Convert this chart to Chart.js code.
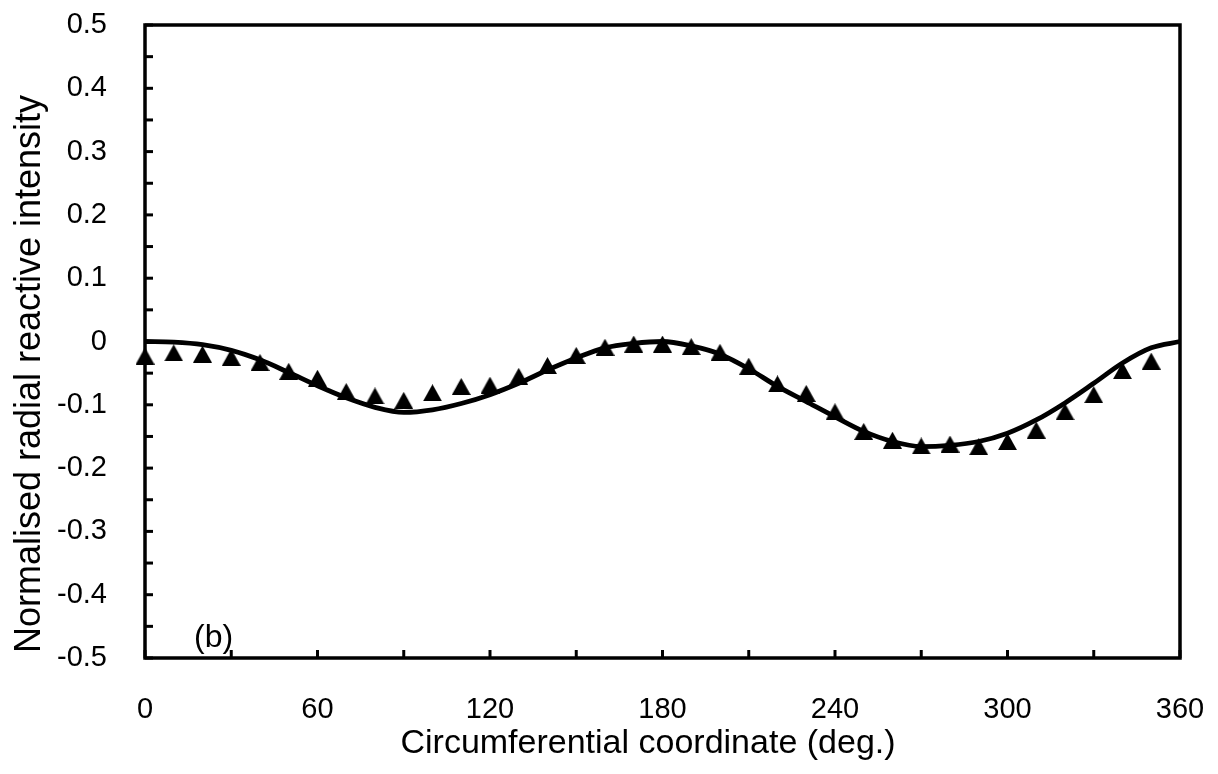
<!DOCTYPE html>
<html>
<head>
<meta charset="utf-8">
<script src="https://cdn.jsdelivr.net/npm/chart.js@4"></script>
<style>
  html, body { margin: 0; padding: 0; background: #fff; }
  #chart { display: block; }
</style>
</head>
<body>
<canvas id="chart" width="1218" height="774"></canvas>
<script>
// measured points (triangles)
let markerAngles = [0, 10, 20, 30, 40, 50, 60, 70, 80, 90, 100, 110, 120, 130, 140, 150, 160, 170,
  180, 190, 200, 210, 220, 230, 240, 250, 260, 270, 280, 290, 300, 310, 320, 330, 340, 350];
let markerValues = [-0.023, -0.018, -0.020, -0.025, -0.033, -0.047, -0.058, -0.079, -0.086, -0.093,
  -0.081, -0.071, -0.069, -0.055, -0.038, -0.022, -0.009, -0.004, -0.004, -0.008,
  -0.017, -0.039, -0.067, -0.082, -0.111, -0.142, -0.156, -0.165, -0.162, -0.166,
  -0.158, -0.140, -0.111, -0.084, -0.046, -0.031];

// predicted curve (solid line)
let curveAngles = [0, 10, 20, 30, 40, 50, 60, 70, 80, 90, 100, 110, 120, 130, 140, 150, 160, 170,
  180, 190, 200, 210, 220, 230, 240, 250, 260, 270, 280, 290, 300, 310, 320, 330, 340, 350, 360];
let curveValues = [0, -0.001, -0.005, -0.014, -0.029, -0.049, -0.070, -0.089, -0.104, -0.112,
  -0.108, -0.098, -0.084, -0.066, -0.045, -0.026, -0.010, -0.003, 0, -0.007,
  -0.020, -0.043, -0.071, -0.095, -0.119, -0.142, -0.158, -0.166, -0.164, -0.158,
  -0.145, -0.124, -0.097, -0.066, -0.034, -0.010, 0];

let xTickLabels = ["0", "60", "120", "180", "240", "300", "360"];
let yTickLabels = ["-0.5", "-0.4", "-0.3", "-0.2", "-0.1", "0", "0.1", "0.2", "0.3", "0.4", "0.5"];

const FONT = "Liberation Sans";
const FONT_SIZE = 29;

// triangle marker, centred in its own box
function makeTriangle(w, h) {
  let c = document.createElement("canvas");
  c.width = w;
  c.height = h;
  let g = c.getContext("2d");
  g.fillStyle = "#000";
  g.beginPath();
  g.moveTo(0, h);
  g.lineTo(w / 2, 0);
  g.lineTo(w, h);
  g.closePath();
  g.fill();
  return c;
}

function toPoints(xs, ys) {
  return xs.map((x, i) => ({ x: x, y: ys[i] }));
}

// inward tick marks, top/right frame, axis titles and panel tag
const framePlugin = {
  id: "frame",
  afterDraw(chart) {
    const ctx = chart.ctx;
    const a = chart.chartArea;
    const xs = chart.scales.x;
    const ys = chart.scales.y;
    ctx.save();
    ctx.strokeStyle = "#000";
    ctx.lineWidth = 3;
    xs.ticks.forEach((t) => {
      let px = xs.getPixelForValue(t.value);
      ctx.beginPath();
      ctx.moveTo(px, a.bottom);
      ctx.lineTo(px, a.bottom - 8);
      ctx.stroke();
    });
    ys.ticks.forEach((t) => {
      let py = ys.getPixelForValue(t.value);
      ctx.beginPath();
      ctx.moveTo(a.left, py);
      ctx.lineTo(a.left + 8, py);
      ctx.stroke();
    });
    ctx.lineWidth = 3.5;
    ctx.strokeRect(a.left, a.top, a.right - a.left, a.bottom - a.top);

    ctx.fillStyle = "#000";
    ctx.textBaseline = "middle";
    ctx.textAlign = "left";
    ctx.font = "32px '" + FONT + "'";
    ctx.fillText("(b)", 194, 638);

    ctx.textAlign = "center";
    ctx.font = "34px '" + FONT + "'";
    ctx.fillText("Circumferential coordinate (deg.)", 648, 744);

    ctx.font = "36px '" + FONT + "'";
    ctx.translate(30, 374);
    ctx.rotate(-Math.PI / 2);
    ctx.fillText("Normalised radial reactive intensity", 0, 0);
    ctx.restore();
  },
};

// keep label overflow from shrinking the plot area
function fixX(s) {
  s.height = 116;
  s.paddingLeft = 0;
  s.paddingRight = 0;
}
function fixY(s) {
  s.width = 145;
  s.paddingTop = 0;
  s.paddingBottom = 0;
}

const ctx = document.getElementById("chart").getContext("2d");

const myChart = new Chart(ctx, {
  type: "scatter",
  data: {
    datasets: [
      {
        label: "Prediction",
        data: toPoints(curveAngles, curveValues),
        showLine: true,
        borderColor: "#000",
        borderWidth: 4.8,
        pointRadius: 0,
        cubicInterpolationMode: "monotone",
        clip: false,
      },
      {
        label: "Measured",
        data: toPoints(markerAngles, markerValues),
        showLine: false,
        pointStyle: makeTriangle(19, 17),
        pointRadius: 9,
        backgroundColor: "#000",
        borderColor: "#000",
        clip: false,
      },
    ],
  },
  options: {
    responsive: false,
    animation: false,
    devicePixelRatio: 1,
    layout: { padding: { left: 0, right: 38, top: 25, bottom: 0 } },
    plugins: {
      legend: { display: false },
      tooltip: { enabled: false },
    },
    scales: {
      x: {
        type: "linear",
        min: 0,
        max: 360,
        afterFit: fixX,
        grid: { display: false, drawTicks: false },
        border: { display: false },
        ticks: {
          stepSize: 30,
          padding: 35,
          color: "#000",
          font: { family: FONT, size: FONT_SIZE },
          maxRotation: 0,
          autoSkip: false,
          callback: (v) => (v % 60 === 0 ? xTickLabels[v / 60] : ""),
        },
      },
      y: {
        type: "linear",
        min: -0.5,
        max: 0.5,
        afterFit: fixY,
        grid: { display: false, drawTicks: false },
        border: { display: false },
        ticks: {
          stepSize: 0.05,
          padding: 38,
          color: "#000",
          font: { family: FONT, size: FONT_SIZE },
          autoSkip: false,
          callback: (v) => {
            let k = Math.round(v * 20);
            return k % 2 === 0 ? yTickLabels[k / 2 + 5] : "";
          },
        },
      },
    },
  },
  plugins: [framePlugin],
});
</script>
</body>
</html>
